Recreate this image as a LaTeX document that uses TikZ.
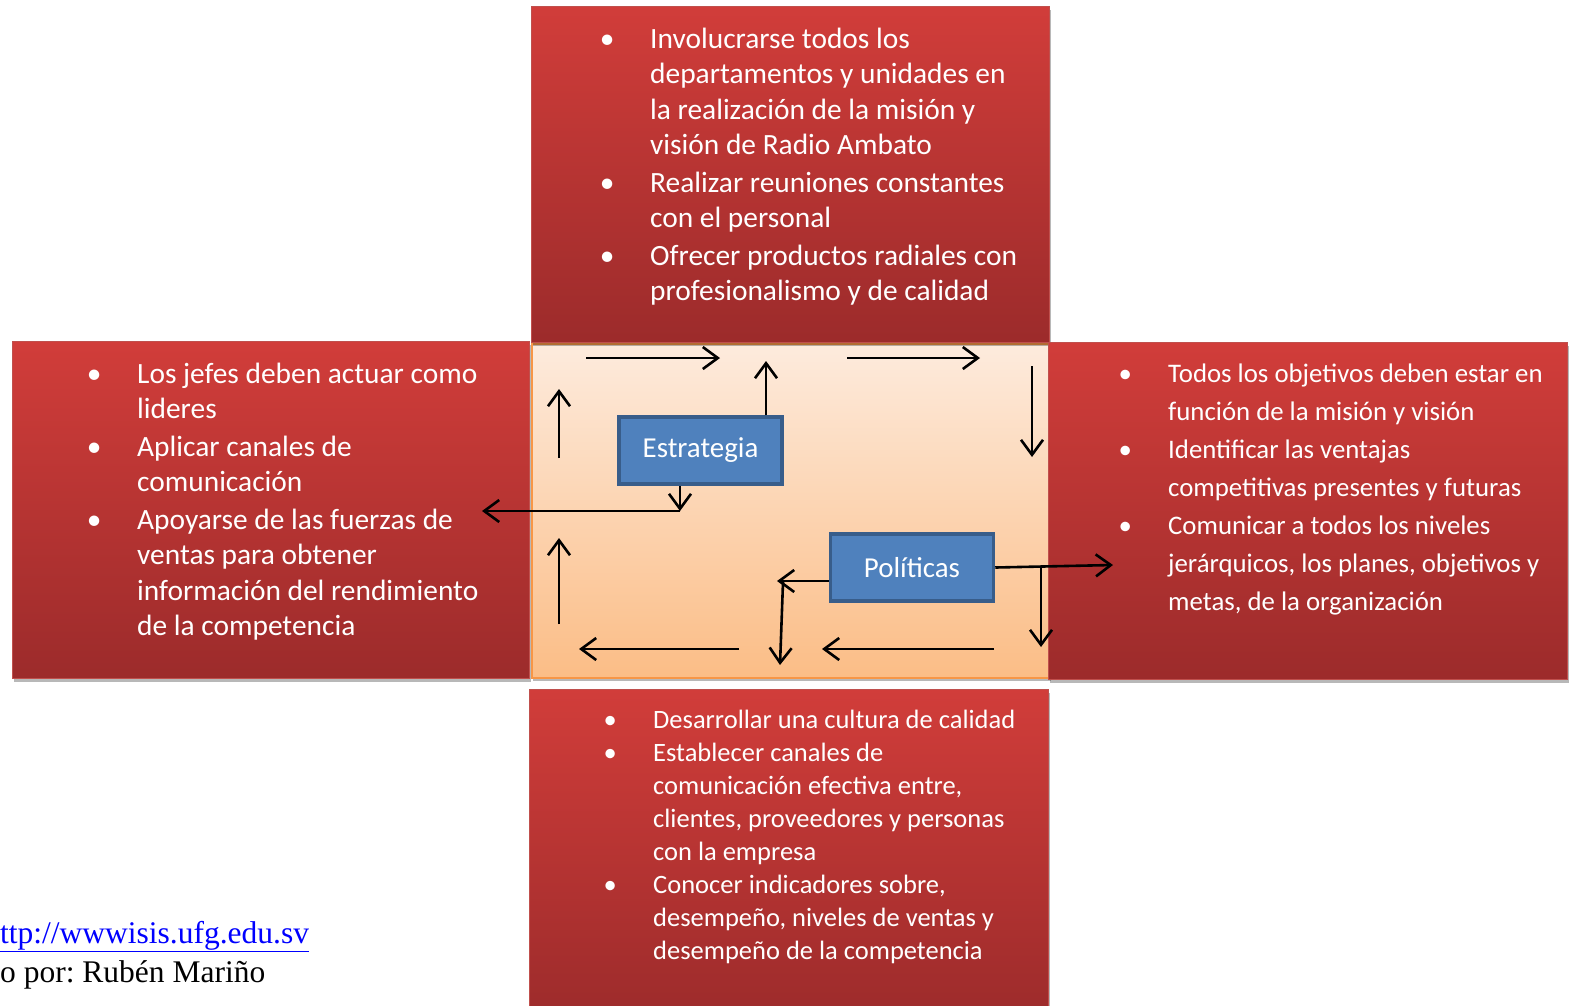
\documentclass[tikz,border=0pt]{standalone}
\usepackage{fontspec}
\setmainfont{Carlito}
\newfontfamily\refserif{Liberation Serif}
\usetikzlibrary{arrows.meta,shadows}

\definecolor{redTop}{HTML}{D13D3A}
\definecolor{redBot}{HTML}{9C2B2B}
\definecolor{redEdge}{HTML}{C0504D}
\definecolor{peachTop}{HTML}{FDEBDD}
\definecolor{peachBot}{HTML}{FBBD86}
\definecolor{peachEdge}{HTML}{F79646}
\definecolor{blueFill}{HTML}{4F81BD}
\definecolor{blueEdge}{HTML}{385D8A}
\definecolor{linkBlue}{HTML}{0000FF}

% bullet hung 43pt to the left of the item text
\newcommand\bul{\llap{\makebox[0pt][c]{\textbullet}\hspace{43pt}}}

\begin{document}
\begin{tikzpicture}[x=1pt,y=-1pt,
  softshadow/.style={drop shadow={shadow xshift=1.5pt,shadow yshift=-3pt,fill=black,opacity=0.28}},
  redpanel/.style={rectangle,anchor=north west,inner sep=0pt,draw=redEdge,line width=1pt,
    top color=redTop,bottom color=redBot,softshadow},
  centerpanel/.style={rectangle,anchor=north west,inner sep=0pt,draw=peachEdge,line width=1.5pt,
    top color=peachTop,bottom color=peachBot,softshadow},
  listtext/.style={anchor=base west,inner sep=0pt,text=white},
  keybox/.style={rectangle,draw=blueEdge,line width=3.5pt,fill=blueFill,text=white,
    minimum width=163pt,minimum height=67pt,inner sep=0pt,
    font=\fontsize{28.9}{34}\selectfont},
  conn/.style={line width=2.6pt,-{Straight Barb[length=15pt,width=22pt,line width=2.6pt]}}]

\useasboundingbox (0,0) rectangle (1573,1005);
\clip (0,0) rectangle (1573,1005);

% panels
\node[centerpanel,minimum width=518pt,minimum height=334pt] (midPanel) at (531,343) {};
\node[redpanel,minimum width=518pt,minimum height=336pt] (topPanel) at (531,6) {};
\node[redpanel,minimum width=517pt,minimum height=337pt] (leftPanel) at (12,341) {};
\node[redpanel,minimum width=519pt,minimum height=337pt] (rightPanel) at (1048,342) {};
\node[redpanel,minimum width=519pt,minimum height=330pt] (bottomPanel) at (529,689) {};

% panel texts
\node[listtext,font=\fontsize{29.4}{35.5}\selectfont] (topText) at (650,48) {%
\begin{tabular}[t]{@{}l@{}}
\bul Involucrarse todos los\\
departamentos y unidades en\\
la realización de la misión y\\
visión de Radio Ambato\\[2pt]
\bul Realizar reuniones constantes\\
con el personal\\[2pt]
\bul Ofrecer productos radiales con\\
profesionalismo y de calidad
\end{tabular}};

\node[listtext,font=\fontsize{29.4}{35.5}\selectfont] (leftText) at (137,383) {%
\begin{tabular}[t]{@{}l@{}}
\bul Los jefes deben actuar como\\
lideres\\[2pt]
\bul Aplicar canales de\\
comunicación\\[2pt]
\bul Apoyarse de las fuerzas de\\
ventas para obtener\\
información del rendimiento\\
de la competencia
\end{tabular}};

\node[listtext,font=\fontsize{26.8}{38}\selectfont] (rightText) at (1168,382) {%
\begin{tabular}[t]{@{}l@{}}
\bul Todos los objetivos deben estar en\\
función de la misión y visión\\
\bul Identificar las ventajas\\
competitivas presentes y futuras\\
\bul Comunicar a todos los niveles\\
jerárquicos, los planes, objetivos y\\
metas, de la organización
\end{tabular}};

\node[listtext,font=\fontsize{26.5}{33}\selectfont] (bottomText) at (653,728) {%
\begin{tabular}[t]{@{}l@{}}
\bul Desarrollar una cultura de calidad\\
\bul Establecer canales de\\
comunicación efectiva entre,\\
clientes, proveedores y personas\\
con la empresa\\
\bul Conocer indicadores sobre,\\
desempeño, niveles de ventas y\\
desempeño de la competencia
\end{tabular}};

% key boxes
\node[keybox] (estr) at (700.5,450.5) {Estrategia};
\node[keybox] (pol) at (912,567.5) {Políticas};

% free ends of the connectors
\coordinate (a1s) at (586,358);  \coordinate (a1e) at (720,358);
\coordinate (a2e) at (766,361);
\coordinate (a3s) at (847,358);  \coordinate (a3e) at (980,358);
\coordinate (a4s) at (1032,366); \coordinate (a4e) at (1032,457);
\coordinate (a5s) at (559,458);  \coordinate (a5e) at (559,389);
\coordinate (a6e) at (680,511);
\coordinate (a7e) at (482,511);
\coordinate (a8s) at (559,624);  \coordinate (a8e) at (559,538);
\coordinate (a9s) at (739,649);  \coordinate (a9e) at (579,649);
\coordinate (a10e) at (777,581);
\coordinate (a11s) at (783,582); \coordinate (a11e) at (780,665);
\coordinate (a12s) at (994,649); \coordinate (a12e) at (822,649);
\coordinate (a13e) at (1113,565);
\coordinate (a14s) at (1041,567); \coordinate (a14e) at (1041,647);

% connectors
\draw[conn] (a1s) -- (a1e);
\draw[conn] (estr.north -| a2e) -- (a2e);
\draw[conn] (a3s) -- (a3e);
\draw[conn] (a4s) -- (a4e);
\draw[conn] (a5s) -- (a5e);
\draw[conn] (estr.south -| a6e) -- (a6e);
\draw[conn] (a6e) -- (a7e);
\draw[conn] (a8s) -- (a8e);
\draw[conn] (a9s) -- (a9e);
\draw[conn] (pol.west |- a10e) -- (a10e);
\draw[conn] (a11s) -- (a11e);
\draw[conn] (a12s) -- (a12e);
\draw[conn] (pol.east) -- (a13e);
\draw[conn] (a14s) -- (a14e);

% source lines
\node[anchor=base west,inner sep=0pt,text=linkBlue,font=\refserif\fontsize{31.5}{36}\selectfont]
  (srcLink) at (0,943) {\underline{ttp://wwwisis.ufg.edu.sv}};
\node[anchor=base west,inner sep=0pt,font=\refserif\fontsize{31.5}{36}\selectfont]
  (srcAuthor) at (0,982) {o por:~Rubén Mariño};
\end{tikzpicture}
\end{document}
